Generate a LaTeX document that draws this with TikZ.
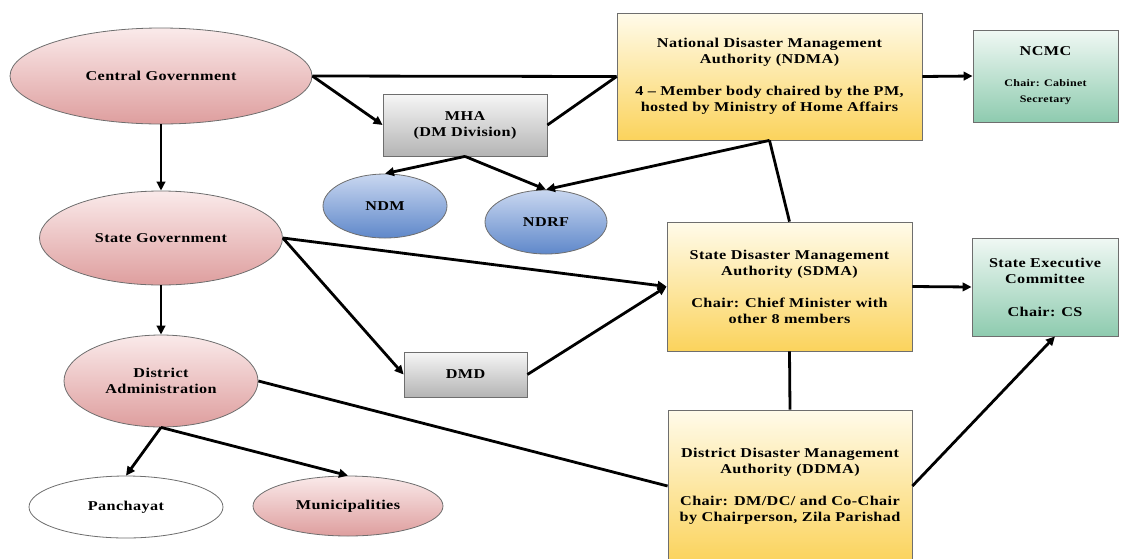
\documentclass[tikz,border=0pt]{standalone}
\usepackage{fontspec}
\setmainfont{Liberation Serif}[FakeStretch=1.2,LetterSpace=3]
\usetikzlibrary{shapes.geometric,arrows.meta}
\definecolor{pinkT}{HTML}{FAEAEA}
\definecolor{pinkB}{HTML}{DE9E9E}
\definecolor{blueT}{HTML}{C9D7F0}
\definecolor{blueB}{HTML}{5F88CA}
\definecolor{grayT}{HTML}{F6F6F6}
\definecolor{grayB}{HTML}{B4B4B4}
\definecolor{yelT}{HTML}{FFFBEA}
\definecolor{yelB}{HTML}{FBD35C}
\definecolor{grnT}{HTML}{F0F8F4}
\definecolor{grnB}{HTML}{8ECBAF}
\definecolor{edge}{HTML}{6E6E6E}
\tikzset{
  lbl/.style={font=\fontsize{13.5}{16}\selectfont\bfseries, align=center, inner sep=0pt, line width=0.8pt, draw=edge},
  pinkell/.style={lbl, ellipse, top color=pinkT, bottom color=pinkB},
  blueell/.style={lbl, ellipse, top color=blueT, bottom color=blueB},
  whiteell/.style={lbl, ellipse, fill=white},
  graybox/.style={lbl, rectangle, top color=grayT, bottom color=grayB},
  yelbox/.style={lbl, rectangle, top color=yelT, bottom color=yelB},
  grnbox/.style={lbl, rectangle, top color=grnT, bottom color=grnB},
  conn/.style={line width=2.8pt, black},
  arr/.style={conn, -{Triangle[length=9pt,width=8.5pt]}},
}
\begin{document}
\begin{tikzpicture}[x=1pt,y=-1pt]
\useasboundingbox (0,0) rectangle (1125,558);
% ellipses
\node[pinkell, minimum width=302, minimum height=96] (cg) at (161,76) {Central Government};
\node[pinkell, minimum width=243, minimum height=94] (sg) at (161,238) {State Government};
\node[pinkell, minimum width=194, minimum height=92] (da) at (161,381) {District\\Administration};
\node[whiteell, minimum width=194, minimum height=62] (pan) at (126,507) {Panchayat};
\node[pinkell, minimum width=190, minimum height=60] (mun) at (348,506) {Municipalities};
\node[blueell, minimum width=124, minimum height=64] (ndm) at (385,206) {NDM};
\node[blueell, minimum width=122, minimum height=64] (ndrf) at (546,222) {NDRF};
% boxes
\node[graybox, minimum width=164, minimum height=62] (mha) at (465,125) {MHA\\(DM Division)};
\node[graybox, minimum width=123, minimum height=45] (dmd) at (465.5,374.5) {DMD};
\node[yelbox, minimum width=305, minimum height=127] (ndma) at (769.5,76.5)
  {National Disaster Management\\Authority (NDMA)\\[16pt]4 – Member body chaired by the PM,\\hosted by Ministry of Home Affairs};
\node[yelbox, minimum width=245, minimum height=129] (sdma) at (789.5,286.5)
  {State Disaster Management\\Authority (SDMA)\\[16pt]Chair: Chief Minister with\\other 8 members};
\node[yelbox, minimum width=244, minimum height=152] (ddma) at (790,486)
  {District Disaster Management\\Authority (DDMA)\\[16pt]Chair: DM/DC/ and Co-Chair\\by Chairperson, Zila Parishad};
\node[grnbox, minimum width=145, minimum height=92] (ncmc) at (1045.5,76)
  {NCMC\\[15pt]{\fontsize{10}{16}\selectfont Chair: Cabinet}\\{\fontsize{10}{16}\selectfont Secretary}};
\node[grnbox, minimum width=146, minimum height=98] (sec) at (1045,287)
  {State Executive\\Committee\\[17pt]Chair: CS};
% connectors
\draw[arr] (cg.south) -- (sg.north);
\draw[arr] (sg.south) -- (da.north);
\draw[conn] (cg.east) -- (ndma.west);
\draw[arr] (cg.east) -- (mha.west);
\draw[conn] (mha.east) -- (ndma.west);
\draw[arr] (mha.south) -- (ndm.north);
\draw[arr] (mha.south) -- (ndrf.north);
\draw[arr] (ndma.south) -- (ndrf.north);
\draw[conn] (ndma.south) -- (sdma.north);
\draw[arr] (ndma.east) -- (ncmc.west);
\draw[arr] (sg.east) -- (sdma.west);
\draw[arr] (sg.east) -- (dmd.west);
\draw[arr] (dmd.east) -- (sdma.west);
\draw[arr] (sdma.east) -- (sec.west);
\draw[conn] (sdma.south) -- (ddma.north);
\draw[conn] (da.east) -- (ddma.west);
\draw[arr] (ddma.east) -- ([xshift=10pt]sec.south);
\draw[arr] (da.south) -- (pan.north);
\draw[arr] (da.south) -- (mun.north);
\end{tikzpicture}
\end{document}
